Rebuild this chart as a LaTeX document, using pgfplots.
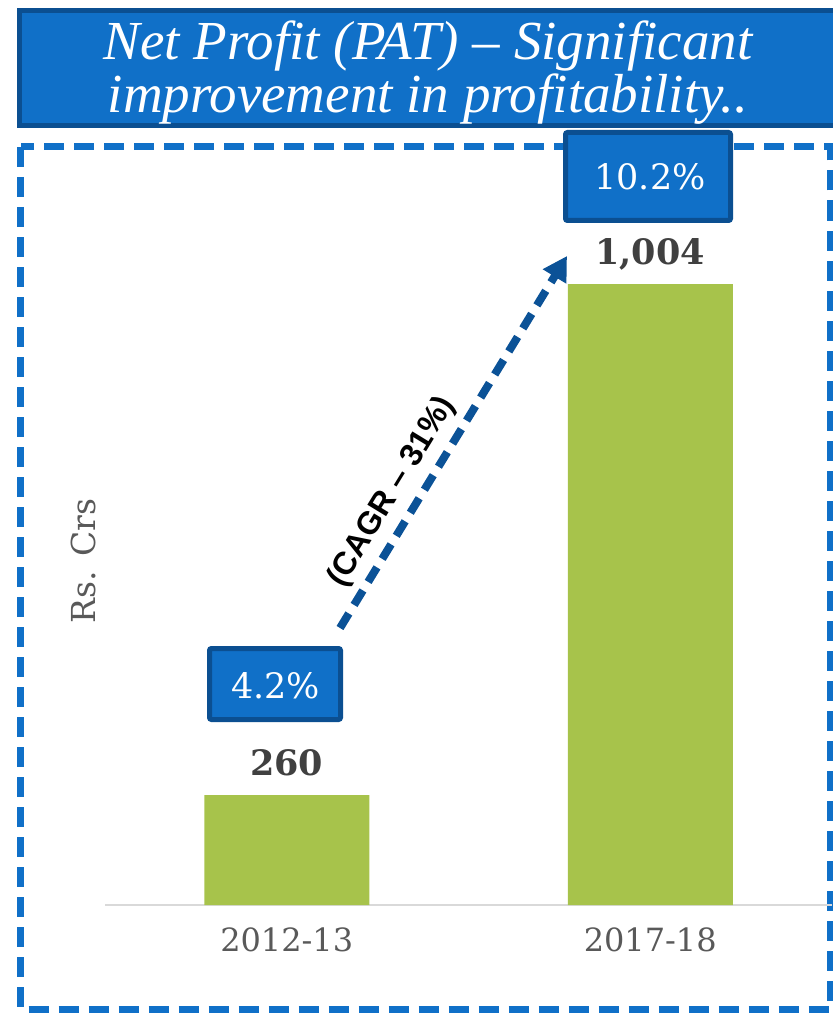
\documentclass[border=0pt]{standalone}
\usepackage{pgfplots}
\pgfplotsset{compat=1.18}
\usetikzlibrary{arrows.meta}
\usepackage{fontspec}
\setmainfont{DejaVu Serif}
\newfontfamily\titlefont{Liberation Serif}
\newfontfamily\cagrfont{Liberation Sans}
\definecolor{boxblue}{HTML}{1070C8}
\definecolor{boxborder}{HTML}{0B4F91}
\definecolor{arrowblue}{HTML}{0B5297}
\definecolor{bargreen}{HTML}{A7C34B}
\definecolor{axisgray}{HTML}{D9D9D9}
\definecolor{labelgray}{HTML}{595959}
\definecolor{valgray}{HTML}{404040}
\begin{document}
\begin{tikzpicture}
\path[use as bounding box] (0,0) rectangle (416.5pt,-508pt);
\begin{scope}[x=0.5pt,y=-0.5pt]
  \draw[boxblue, line width=3.5pt, dash pattern=on 10pt off 5pt] (20.5,147) rectangle (830,1009);
  \node[rotate=90, text=labelgray, font=\fontsize{16.5}{20}\selectfont] at (83,561) {Rs. Crs};
\end{scope}
\begin{axis}[
  at={(52.5pt,-452.5pt)}, anchor=south west,
  scale only axis, width=363.5pt, height=353.7pt,
  xmin=-0.5, xmax=1.5, ymin=100, ymax=1130,
  axis x line*=bottom, axis y line=none,
  x axis line style={draw=axisgray, line width=1pt, -},
  xtick={0,1}, xticklabels={2012-13,2017-18},
  ytick=\empty, major tick length=0pt,
  xticklabel style={font=\fontsize{16}{19}\selectfont, text=labelgray, yshift=-8pt},
  ybar, bar width=82.5pt,
  clip mode=individual,
]
\addplot[fill=bargreen, draw=none] coordinates {(0,260) (1,1004)};
\node[anchor=base, text=valgray, font=\bfseries\fontsize{17.5}{21}\selectfont, yshift=9.75pt] at (axis cs:0,260) {260};
\node[anchor=base, text=valgray, font=\bfseries\fontsize{17.5}{21}\selectfont, yshift=9.75pt] at (axis cs:1,1004) {1,004};
\end{axis}
\begin{scope}[x=0.5pt,y=-0.5pt]
  \draw[arrowblue, line width=4pt, dash pattern=on 8.5pt off 5pt, -{Triangle[length=12pt,width=13pt]}] (340,628) -- (567,256);
  \node[rotate=58.6, font=\cagrfont\bfseries\fontsize{16}{19}\selectfont] at (392,492) {(CAGR – 31\%)};
  \draw[boxborder, fill=boxblue, line width=2.5pt, rounded corners=1pt] (209.5,648.5) rectangle (340.5,719.5);
  \node[anchor=base, text=white, font=\fontsize{17.5}{21}\selectfont] at (275.5,698) {4.2\%};
  \draw[boxborder, fill=boxblue, line width=2.5pt] (19.5,10.5) rectangle (850,125.5);
  \node[anchor=base, text=white, font=\titlefont\itshape\fontsize{27.5}{33}\selectfont] at (428,60) {Net Profit (PAT) – Significant};
  \node[anchor=base, text=white, font=\titlefont\itshape\fontsize{27.5}{33}\selectfont] at (428,113) {improvement in profitability..};
  \draw[boxborder, fill=boxblue, line width=2.5pt, rounded corners=1pt] (565.5,132.5) rectangle (730.5,220.5);
  \node[anchor=base, text=white, font=\fontsize{17.5}{21}\selectfont] at (650,190) {10.2\%};
\end{scope}
\end{tikzpicture}
\end{document}
